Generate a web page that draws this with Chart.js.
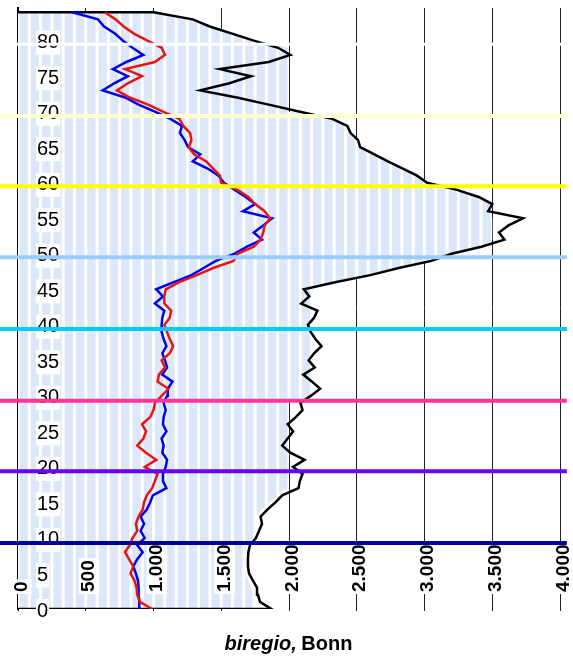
<!DOCTYPE html>
<html>
<head>
<meta charset="utf-8">
<script src="https://cdn.jsdelivr.net/npm/chart.js@4.4.1/dist/chart.umd.min.js"></script>
<style>
html,body{margin:0;padding:0;background:#ffffff;}
canvas{display:block;}
</style>
</head>
<body>
<canvas id="c" width="573" height="659"></canvas>
<script>
// ---------- DATA ----------
const ages = [0,1,2,3,4,5,6,7,8,9,10,11,12,13,14,15,16,17,18,19,20,21,22,23,24,25,26,27,28,29,
  30,31,32,33,34,35,36,37,38,39,40,41,42,43,44,45,46,47,48,49,50,51,52,53,54,55,56,57,58,59,
  60,61,62,63,64,65,66,67,68,69,70,71,72,73,74,75,76,77,78,79,80,81,82,83,84];

// total (black outline)
const total = [1870,1786,1771,1764,1734,1705,1697,1697,1700,1712,
  1756,1779,1801,1790,1840,1900,1950,2070,2080,2100,
  2030,2115,2010,1950,1990,2030,1990,2050,2100,2085,
  2160,2230,2170,2105,2190,2145,2185,2240,2195,2160,
  2140,2185,2210,2090,2150,2110,2340,2600,2810,3050,
  3200,3420,3590,3550,3620,3727,3470,3500,3400,3240,
  3020,2945,2840,2730,2630,2525,2510,2455,2430,2320,
  2081,1850,1615,1345,1560,1720,1490,1850,2010,1920,
  1740,1580,1415,1290,1000];

// men (blue)
const men = [900,895,890,890,885,870,850,880,920,880,
  935,905,930,905,950,975,995,1095,1070,1070,
  1090,1100,1065,1075,1060,1095,1070,1075,1090,1075,
  1100,1105,1140,1065,1100,1085,1065,1095,1075,1060,
  1060,1065,1080,1010,1070,1020,1150,1280,1370,1460,
  1595,1690,1800,1740,1810,1875,1660,1750,1680,1600,
  1520,1480,1400,1290,1345,1255,1230,1195,1210,1125,
  1010,890,790,625,710,810,700,800,925,845,
  775,715,635,590,400];

// women (red)
const women = [990,900,880,875,860,830,850,820,790,825,
  845,880,870,890,920,930,950,990,1010,1030,
  935,1020,945,880,925,945,915,975,1000,1010,
  1060,1110,1030,1040,1085,1060,1120,1145,1120,1100,
  1080,1120,1130,1080,1080,1090,1190,1320,1440,1590,
  1620,1740,1790,1810,1820,1860,1820,1750,1700,1620,
  1500,1490,1440,1390,1300,1260,1280,1270,1220,1190,
  1070,960,825,730,810,915,790,1010,1085,1060,
  955,855,780,720,640];

// striped background area
const areaFill = [1730,1730,1730,1720,1700,1680,1680,1680,1680,1690,
  1730,1740,1745,1750,1800,1860,1910,1990,2000,2000,
  2000,2000,2000,2000,2000,2000,2000,2000,2000,2000,
  2170,2170,2170,2170,2170,2170,2170,2170,2170,2170,
  2170,2170,2170,2170,2170,2170,2330,2580,2780,3000,
  3180,3420,3500,3500,3500,3500,3470,3500,3400,3240,
  3010,2940,2830,2720,2620,2520,2500,2445,2420,2310,
  2000,2000,2000,2000,2000,2000,2000,2000,2000,2000,
  1740,1580,1415,1290,1000];

const xTicks = [0,500,1000,1500,2000,2500,3000,3500,4000];
const xTickLabels = ['0','500','1.000','1.500','2.000','2.500','3.000','3.500','4.000'];
const yTicks = [0,5,10,15,20,25,30,35,40,45,50,55,60,65,70,75,80];

// horizontal marker lines (age positions)
const markerAges = [9.3,19.4,29.3,39.4,49.5,59.5,69.4,79.5];

// ---------- STYLE ----------
const markerColors = ['#000099','#6600ff','#ff3399','#00ccff','#99ccff','#ffff00','#ffffcc','#ffffff'];
const markerWidths = [4,4,4,4,4,4,4,3];
const FILL_BLUE = '#dde7fa';
const STRIPES = 48;

let patternCache = null;
function stripePattern(chart){
  const a = chart.chartArea;
  if (!a) return FILL_BLUE;
  const key = a.left + '_' + a.right;
  if (patternCache && patternCache.key === key) return patternCache.pat;
  const w = Math.round(a.right - a.left);
  const c = document.createElement('canvas');
  c.width = w; c.height = 4;
  const g = c.getContext('2d');
  g.fillStyle = FILL_BLUE; g.fillRect(0,0,w,4);
  g.fillStyle = '#ffffff';
  const p = w / STRIPES;
  for (let k = 0; k <= STRIPES; k++) g.fillRect(k*p - 1.5, 0, 3, 4);
  const pat = chart.ctx.createPattern(c, 'repeat');
  pat.setTransform(new DOMMatrix().translate(a.left, 0));
  patternCache = {key, pat};
  return pat;
}

const pts = (vals) => vals.map((v,i) => ({x: v, y: ages[i]}));
const totalPts = [{x:0, y:ages[0]}].concat(pts(total), [{x:0, y:ages[ages.length-1]}]);

const markerPlugin = {
  id: 'markers',
  afterDraw(chart){
    const {ctx, scales:{x, y}} = chart;
    ctx.save();
    markerAges.forEach((a,i) => {
      const py = y.getPixelForValue(a);
      ctx.strokeStyle = markerColors[i];
      ctx.lineWidth = markerWidths[i];
      ctx.beginPath();
      ctx.moveTo(x.getPixelForValue(-140), py);
      ctx.lineTo(x.getPixelForValue(4050), py);
      ctx.stroke();
    });
    ctx.restore();
  }
};

const titlePlugin = {
  id: 'xtitle',
  afterDraw(chart){
    const {ctx, chartArea} = chart;
    const p1 = 'biregio,', p2 = ' Bonn';
    const f1 = 'italic bold 20px "Liberation Sans", Arial, sans-serif';
    const f2 = 'bold 20px "Liberation Sans", Arial, sans-serif';
    ctx.save();
    ctx.font = f1; const w1 = ctx.measureText(p1).width;
    ctx.font = f2; const w2 = ctx.measureText(p2).width;
    const cx = (chartArea.left + chartArea.right) / 2;
    const x0 = cx - (w1 + w2) / 2;
    const by = chartArea.bottom + 41;
    ctx.fillStyle = '#000';
    ctx.textBaseline = 'alphabetic';
    ctx.textAlign = 'left';
    ctx.font = f1; ctx.fillText(p1, x0, by);
    ctx.font = f2; ctx.fillText(p2, x0 + w1 - 1, by);
    ctx.restore();
  }
};

new Chart(document.getElementById('c').getContext('2d'), {
  type: 'line',
  data: {
    datasets: [
      {label:'Frauen', data: pts(women), borderColor:'#e81414', borderWidth:2.5, pointRadius:0, fill:false},
      {label:'Männer', data: pts(men), borderColor:'#0000f0', borderWidth:2.5, pointRadius:0, fill:false},
      {label:'Insgesamt', data: totalPts, borderColor:'#000000', borderWidth:2.5, pointRadius:0, fill:false},
      {label:'Fläche', data: pts(areaFill), borderWidth:0, borderColor:'rgba(0,0,0,0)', pointRadius:0,
        backgroundColor: (ctx) => stripePattern(ctx.chart), fill:'origin'}
    ]
  },
  options: {
    indexAxis: 'y',
    responsive: false,
    animation: false,
    devicePixelRatio: 1,
    layout: {padding: {top: 8, right: 13, left: 0, bottom: 0}},
    plugins: {legend: {display:false}, tooltip: {enabled:false}},
    scales: {
      x: {
        type:'linear', min:0, max:4000, position:'bottom',
        afterFit: (s) => {
          s.height = 50;
          s.paddingLeft = 0; s.paddingRight = 0;
          s._getXAxisLabelAlignment = () => 'left';
          s._computeLabelArea = () => undefined;
        },
        afterBuildTicks: (s) => { s.ticks = xTicks.map(v => ({value: v})); },
        grid: {color:'#222222', lineWidth:1, drawTicks:true, tickLength:2, z:-1},
        border: {display:false},
        ticks: {
          autoSkip:false, minRotation:90, maxRotation:90, padding:-19, z:1,
          color:'#000', font:{family:'"Liberation Sans", Arial, sans-serif', size:19, weight:'bold', lineHeight:0.35},
          showLabelBackdrop:true, backdropColor:'#ffffff',
          backdropPadding:{top:7, bottom:7, left:2, right:2},
          callback: (v) => { const i = xTicks.indexOf(v); return i >= 0 ? xTickLabels[i] : null; }
        }
      },
      y: {
        type:'linear', min:0, max:84.6, position:'left',
        afterFit: (s) => { s.width = 18; s.paddingTop = 0; s.paddingBottom = 0; },
        afterBuildTicks: (s) => { s.ticks = yTicks.map(v => ({value: v})); },
        grid: {display:false, drawTicks:false},
        border: {display:true, color:'#000000', width:2},
        ticks: {
          mirror:true, padding:19, z:1, color:'#000', labelOffset:2,
          font:{family:'"Liberation Sans", Arial, sans-serif', size:20},
          showLabelBackdrop:true, backdropColor:'#ffffff',
          backdropPadding:{top:0, bottom:0, left:1, right:1},
          callback: (v) => String(v)
        }
      }
    }
  },
  plugins: [markerPlugin, titlePlugin]
});
</script>
</body>
</html>
